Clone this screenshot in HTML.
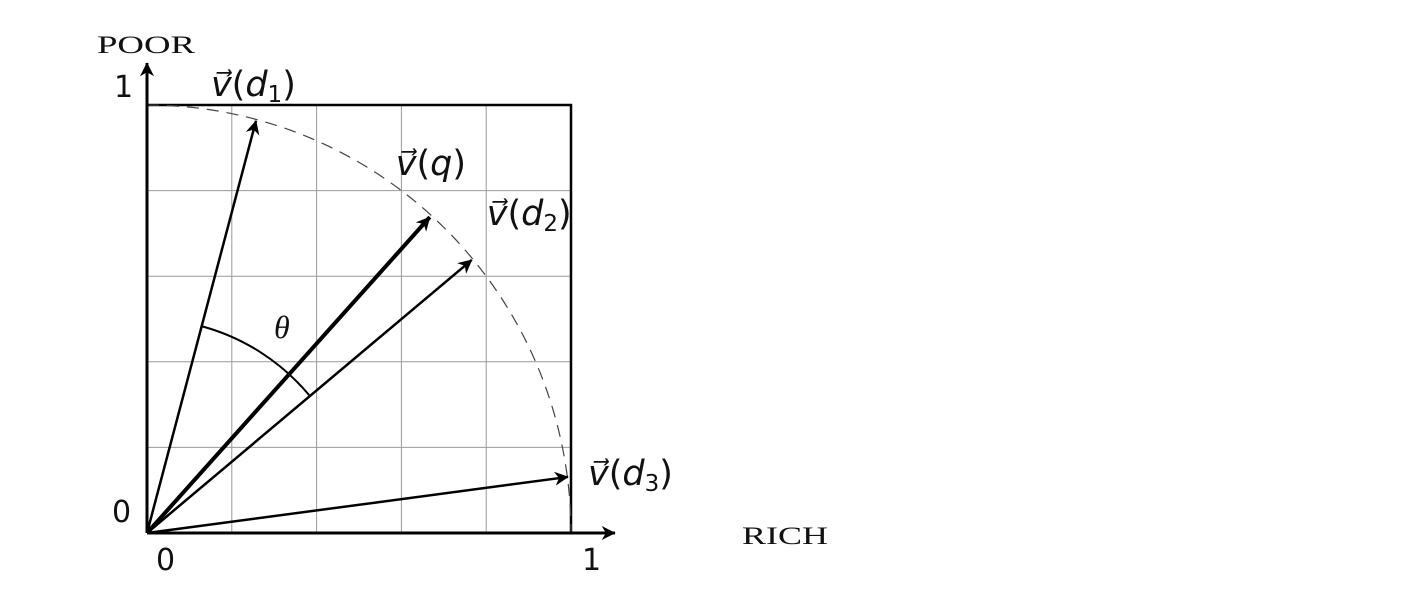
<!DOCTYPE html>
<html><head><meta charset="utf-8"><style>
html,body{margin:0;padding:0;background:#fff;width:1420px;height:596px;overflow:hidden}
svg{display:block}
text{font-family:"DejaVu Sans","Liberation Sans",sans-serif;fill:#111}
.serif{font-family:"Liberation Serif",serif}
</style></head><body>
<svg id="chart" width="1420" height="596" viewBox="0 0 1420 596">
<defs>
<marker id="ah" viewBox="0 0 10 10" refX="9.5" refY="5" markerWidth="17" markerHeight="14" orient="auto" markerUnits="userSpaceOnUse"><path d="M0,0 L10,5 L0,10 L3,5 z" fill="#000"/></marker>
</defs>
<g id="grid"></g>
<g id="marks"></g>
<text class="serif" x="97" y="53" font-size="25" textLength="98" lengthAdjust="spacingAndGlyphs">POOR</text>
<text class="serif" x="742" y="544" font-size="25" textLength="86" lengthAdjust="spacingAndGlyphs">RICH</text>
<text x="114" y="97" font-size="30">1</text>
<text x="112" y="522" font-size="30">0</text>
<text x="156" y="570" font-size="30">0</text>
<text x="582" y="570" font-size="30">1</text>
</svg>
<script>
const names = ['d1','q','d2','d3'];
const xs = [0.257, 0.667, 0.766, 0.993];
const ys = [0.963, 0.738, 0.638, 0.131];
const widths = [2.5, 4, 2.5, 2.5];
const labels = ['d','q','d','d'];
const subs = ['1','','2','3'];
const gridTicks = [0.2,0.4,0.6,0.8];
const X0=147, Y0=533, W=424, H=428;
const sx=v=>X0+v*W, sy=v=>Y0-v*H;
const NS='http://www.w3.org/2000/svg';
const grid=document.getElementById('grid');
const marks=document.getElementById('marks');
function mk(tag,attrs,parent){const e=document.createElementNS(NS,tag);for(const k in attrs)e.setAttribute(k,attrs[k]);parent.appendChild(e);return e;}
gridTicks.forEach(t=>{
  const a=mk('line',{x1:sx(t),x2:sx(t),y1:sy(0),y2:sy(1),stroke:'#999','stroke-width':1},grid);
  
  
  const b=mk('line',{x1:sx(0),x2:sx(1),y1:sy(t),y2:sy(t),stroke:'#999','stroke-width':1},grid);
  
  
});
let f=mk('path',{d:`M${sx(0)},${sy(1)} H${sx(1)} V${sy(0)}`,fill:'none',stroke:'#000','stroke-width':2.5},grid);


let arc=mk('path',{d:`M${sx(0)},${sy(1)} A${W},${H} 0 0 1 ${sx(1)},${sy(0)}`,fill:'none',stroke:'#444','stroke-width':1.2,'stroke-dasharray':'12,8'},grid);


let ax=mk('line',{x1:sx(0),y1:sy(0),x2:sx(1)+44,y2:sy(0),stroke:'#000','stroke-width':3,'marker-end':'url(#ah)'},grid);


let ay=mk('line',{x1:sx(0),y1:sy(0),x2:sx(0),y2:sy(1)-42,stroke:'#000','stroke-width':3,'marker-end':'url(#ah)'},grid);


const R=212/W;
const a1=Math.atan2(ys[0],xs[0]), a2=Math.atan2(ys[2],xs[2]);
let th=mk('path',{d:`M${sx(R*Math.cos(a1))},${sy(R*Math.sin(a1))} A${R*W},${R*H} 0 0 1 ${sx(R*Math.cos(a2))},${sy(R*Math.sin(a2))}`,fill:'none',stroke:'#000','stroke-width':2},marks);


let tt=mk('text',{x:274,y:338,'font-size':32,'font-style':'italic',class:'serif'},marks);tt.textContent='θ';


const lblOff=[[-45,-25],[-34,-42],[15,-35],[20,8]];
names.forEach((n,i)=>{
  const l=mk('line',{x1:sx(0),y1:sy(0),x2:sx(xs[i]),y2:sy(ys[i]),stroke:'#000','stroke-width':widths[i],'marker-end':'url(#ah)'},marks);
  
  
  const t=mk('text',{x:sx(xs[i])+lblOff[i][0],y:sy(ys[i])+lblOff[i][1],'font-size':35},marks);
  
  
  t.innerHTML=`<tspan font-style="italic">v⃗</tspan>(<tspan font-style="italic">${labels[i]}</tspan>${subs[i]?`<tspan font-size="23" dy="6">${subs[i]}</tspan><tspan dy="-6">)</tspan>`:')'}`;
});
</script>
</body></html>
